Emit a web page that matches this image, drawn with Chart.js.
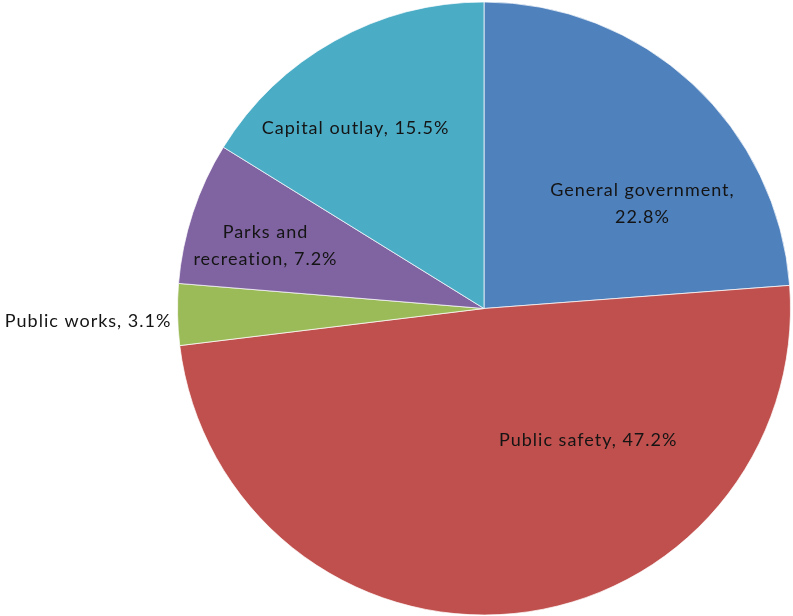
<!DOCTYPE html>
<html>
<head>
<meta charset="utf-8">
<script src="https://cdn.jsdelivr.net/npm/chart.js@4.4.1/dist/chart.umd.min.js"></script>
<style>
  html, body { margin: 0; padding: 0; background: #fff; }
  #wrap { width: 793px; height: 616px; position: relative; }
</style>
</head>
<body>
<div id="wrap"><canvas id="pieChart"></canvas></div>
<script>
// Expenditure shares (percent) as printed on the chart
const categories = ['General government', 'Public safety', 'Public works', 'Parks and recreation', 'Capital outlay'];
const shares = [22.8, 47.2, 3.1, 7.2, 15.5];
const sliceColors = ['#4F81BD', '#C0504D', '#9BBB59', '#8064A2', '#4BACC6'];

// label text lines, and where each label sits (fraction of radius from the pie centre)
const labelLines = [
    ['General government,', '22.8%'],
    ['Public safety, 47.2%'],
    ['Public works, 3.1%'],
    ['Parks and', 'recreation, 7.2%'],
    ['Capital outlay, 15.5%']
];
const labelSpots = [[0.517, -0.341], [0.34, 0.429], [-1.02, 0.041], [-0.713, -0.204], [-0.419, -0.589]];
const labelAlign = ['center', 'center', 'right', 'center', 'center'];

const sliceLabels = {
    id: 'sliceLabels',
    afterDatasetsDraw(chart) {
        const ctx = chart.ctx;
        const arcs = chart.getDatasetMeta(0).data;
        ctx.save();
        ctx.font = '18px Lato, "Open Sans", sans-serif';
        ctx.letterSpacing = '1px';
        ctx.fillStyle = '#141414';
        ctx.textBaseline = 'middle';
        arcs.forEach((arc, i) => {
            const r = arc.outerRadius;
            const cx = arc.x + labelSpots[i][0] * r;
            const cy = arc.y + labelSpots[i][1] * r;
            const lines = labelLines[i];
            const lh = 27;
            ctx.textAlign = labelAlign[i];
            lines.forEach((t, k) => {
                ctx.fillText(t, cx, cy + (k - (lines.length - 1) / 2) * lh);
            });
        });
        ctx.restore();
    }
};

const ctxPie = document.getElementById('pieChart');
window.myPieChart = new Chart(ctxPie, {
    type: 'pie',
    data: {
        labels: categories,
        datasets: [{
            data: shares,
            backgroundColor: sliceColors,
            borderColor: 'rgba(255, 255, 255, 0.7)',
            borderWidth: 1
        }]
    },
    options: {
        responsive: true,
        maintainAspectRatio: false,
        animation: false,
        layout: {
            padding: { top: 1, bottom: 0, left: 177, right: 2 }
        },
        plugins: {
            legend: { display: false },
            tooltip: { enabled: false }
        }
    },
    plugins: [sliceLabels]
});
</script>
</body>
</html>
